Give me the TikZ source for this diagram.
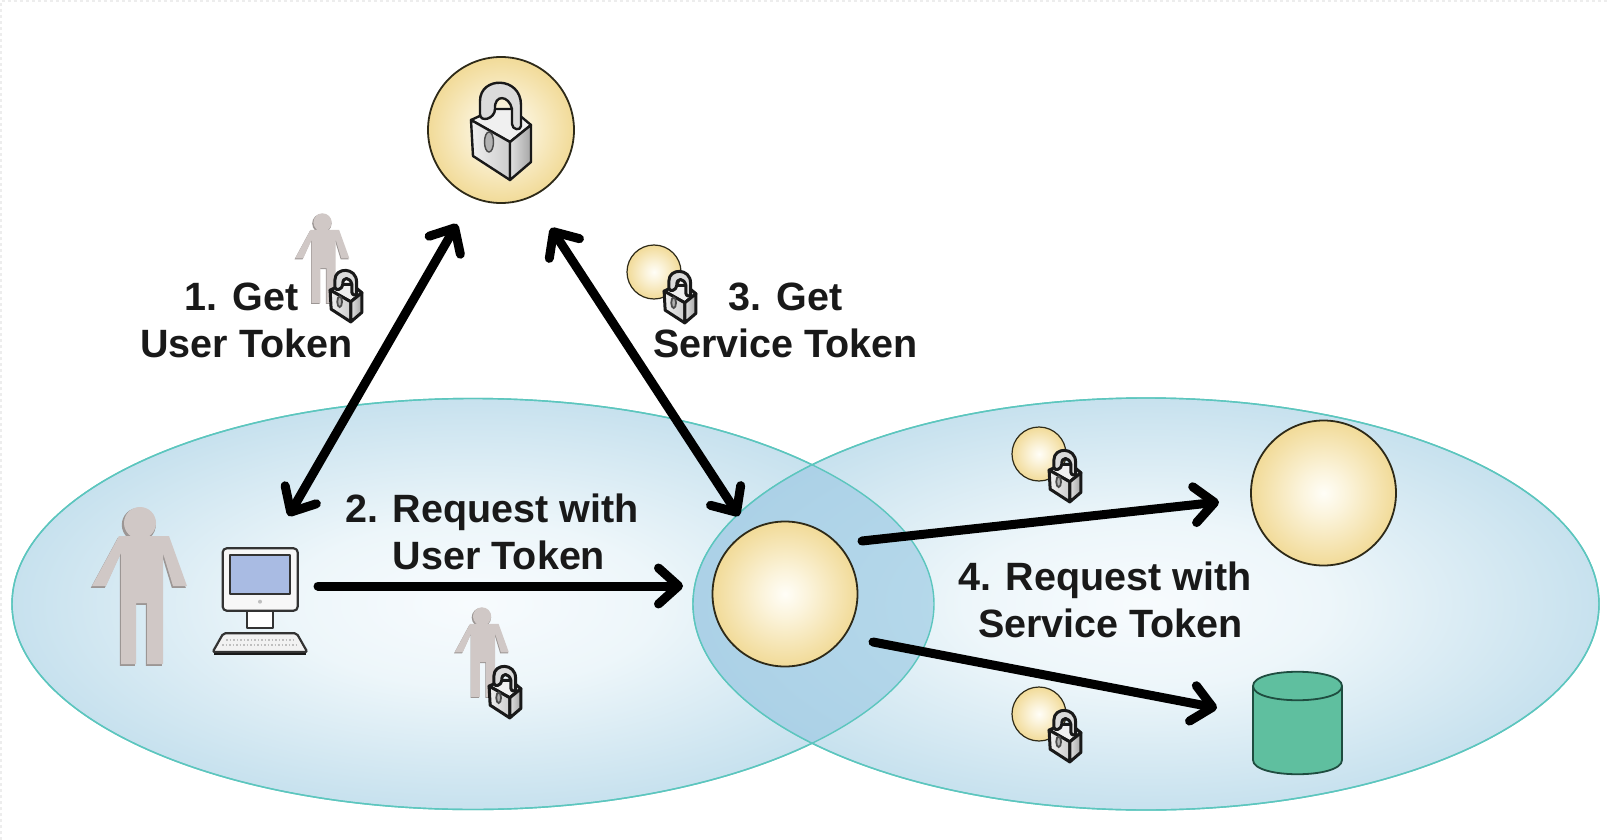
\documentclass[tikz,border=0pt]{standalone}
\usepackage{fontspec}
\setmainfont{Liberation Sans}
\usetikzlibrary{arrows.meta,shapes.geometric}
\definecolor{teal1}{HTML}{5CC6BE}
\definecolor{ballline}{HTML}{2E2A18}
\definecolor{persona}{HTML}{D0C8C6}
\definecolor{personb}{HTML}{9C9694}
\definecolor{screenc}{HTML}{A9BBE3}
\definecolor{cylc}{HTML}{5FBF9F}
\definecolor{cyll}{HTML}{1F4D40}
\pgfdeclareradialshading{ballsoft}{\pgfpoint{0bp}{0bp}}{rgb(0bp)=(1,0.995,0.97);rgb(8bp)=(0.985,0.955,0.86);rgb(28bp)=(0.94,0.84,0.55);rgb(50bp)=(0.94,0.84,0.55)}
\pgfdeclareradialshading{skyshade}{\pgfpoint{0bp}{0bp}}{rgb(0bp)=(0.97,0.985,0.995);rgb(10bp)=(0.93,0.965,0.98);rgb(31bp)=(0.72,0.85,0.915);rgb(50bp)=(0.70,0.84,0.91)}
\pgfdeclareradialshading{lensshade}{\pgfpoint{0bp}{0bp}}{rgb(0bp)=(0.74,0.87,0.93);rgb(30bp)=(0.66,0.81,0.90);rgb(50bp)=(0.66,0.81,0.90)}
\tikzset{
  x=1pt,y=-1pt,
  zone/.style={ellipse,draw=teal1,line width=1.4pt,shading=skyshade,inner sep=0pt,outer sep=0pt},
  ballnode/.style={circle,draw=ballline,line width=1.8pt,shading=ballsoft,inner sep=0pt,outer sep=0pt},
  steplabel/.style={font=\fontsize{39.5}{47}\selectfont\bfseries,align=center,text=black!90,inner sep=0pt},
  flow/.style={line width=9pt,line cap=round,black,-{Straight Barb[length=20pt,width=36pt,line width=9pt,round]}},
  dflow/.style={line width=9pt,line cap=round,black,{Straight Barb[length=20pt,width=36pt,line width=9pt,round]}-{Straight Barb[length=20pt,width=36pt,line width=9pt,round]}},
  locklw/.initial=2.4pt,
  person/.pic={
    \path[fill=personb,xshift=-1.2pt,yshift=-1.8pt]
      (-20,5) -- (30,5) -- (48,55) -- (34,55) -- (24,22) -- (24,133) -- (8,133) -- (8,72) -- (-3,72) -- (-3,133) -- (-18,133) -- (-18,22) -- (-33,55) -- (-47,55) -- cycle
      (1,-8) circle[radius=17];
    \path[fill=persona]
      (-20,5) -- (30,5) -- (48,55) -- (34,55) -- (24,22) -- (24,133) -- (8,133) -- (8,72) -- (-3,72) -- (-3,133) -- (-18,133) -- (-18,22) -- (-33,55) -- (-47,55) -- cycle
      (1,-8) circle[radius=16];
  },
  padlock/.pic={
    \draw[line width=\pgfkeysvalueof{/tikz/locklw},black!90,fill=black!6,line join=round]
      (-30,-13) -- (-6,-24) -- (11,-24) -- (30,-8) -- (9,9) -- cycle;
    \draw[line width=\pgfkeysvalueof{/tikz/locklw},black!90,fill=black!14,line join=round]
      (-21,-19) -- (-21,-32) .. controls (-21,-57) and (20,-57) .. (20,-28) -- (20,-7) .. controls (20,-2) and (11,-3) .. (11,-9) -- (11,-24) .. controls (8,-38) and (-7,-39) .. (-6,-24) .. controls (-6,-14) and (-21,-10) .. (-21,-19) -- cycle;
    \draw[line width=\pgfkeysvalueof{/tikz/locklw},black!90,left color=black!6,right color=black!20,line join=round]
      (-30,-13) -- (9,9) -- (9,47) -- (-28,23) -- cycle;
    \draw[line width=\pgfkeysvalueof{/tikz/locklw},black!90,left color=black!12,right color=black!35,line join=round]
      (9,9) -- (30,-8) -- (30,29) -- (9,47) -- cycle;
    \draw[line width=.6*\pgfkeysvalueof{/tikz/locklw},black!70,fill=black!30] (-12,9) ellipse[x radius=4.5,y radius=10];
  },
}
\begin{document}
\begin{tikzpicture}
\useasboundingbox (0,0) rectangle (1610,840);
\fill[white] (0,0) rectangle (1610,840);
\draw[black!7,line width=1.5pt,dashed] (1,840) -- (1,1) -- (1610,1);

\node[zone,minimum width=922pt,minimum height=411pt] (left) at (473,604) {};
\node[zone,minimum width=906pt,minimum height=412pt] (right) at (1146,604) {};
\begin{scope}
  \clip (473,604) ellipse[x radius=461,y radius=205.5];
  \path[shading=lensshade] (1146,604) ellipse[x radius=453,y radius=206];
\end{scope}
\draw[teal1,line width=1.4pt] (473,604) ellipse[x radius=461,y radius=205.5];
\draw[teal1,line width=1.4pt] (1146,604) ellipse[x radius=453,y radius=206];

\node[ballnode,minimum size=146pt] (auth) at (501,130) {};
\node[ballnode,minimum size=145pt] (front) at (785,594) {};
\node[ballnode,minimum size=145pt] (back) at (1323.5,493) {};

\path[fill=cylc,draw=cyll,line width=1.8pt] (1253,686) -- (1253,760) .. controls (1253,779) and (1342,779) .. (1342,760) -- (1342,686) .. controls (1342,667) and (1253,667) .. (1253,686) -- cycle;
\draw[cyll,line width=1.8pt] (1253,686) .. controls (1253,705) and (1342,705) .. (1342,686);

\pic at (501,133) {padlock};

\pic at (139,531) {person};
\begin{scope}[black!80,line join=round]
  \draw[line width=1.8pt,fill=white] (246.7,610) rectangle (273.3,628);
  \draw[line width=2.2pt,fill=black!3,rounded corners=4pt] (222.7,548.3) rectangle (297.7,610.7);
  \draw[line width=1.8pt,fill=screenc] (230,555) rectangle (290,594.3);
  \fill[black!25] (260,601.7) circle[radius=2];
  \draw[line width=2.2pt,fill=black!5,rounded corners=2pt] (223.3,633.3) -- (296.7,633.3) -- (307.3,652) -- (212.7,652) -- cycle;
  \draw[black!90,line width=2.6pt] (214,654) -- (306,654);
  \draw[black!25,line width=1.5pt,dotted] (226,640) -- (294,640);
  \draw[black!25,line width=1.5pt,dotted] (222,645) -- (298,645);
\end{scope}

\pic[scale=.57] at (322,227) {person};
\pic[scale=.57] at (481.5,621) {person};
\pic[scale=.53,locklw=3pt] at (346,297) {padlock};
\pic[scale=.53,locklw=3pt] at (505,693) {padlock};
\node[ballnode,line width=1.2pt,minimum size=54pt] (tokS) at (654,272) {};
\pic[scale=.53,locklw=3pt] at (680,298) {padlock};
\node[ballnode,line width=1.2pt,minimum size=54pt] (tokA) at (1039,454) {};
\pic[scale=.53,locklw=3pt] at (1065,477) {padlock};
\node[ballnode,line width=1.2pt,minimum size=54pt] (tokB) at (1039,714) {};
\pic[scale=.53,locklw=3pt] at (1065,737) {padlock};

\coordinate (a1) at (457,224);
\coordinate (c1) at (288.5,516);
\coordinate (a3) at (551,228);
\coordinate (f3) at (739,516);
\coordinate (c2) at (318,586);
\coordinate (f2) at (683,586);
\coordinate (f4a) at (862,541);
\coordinate (b4a) at (1219,502);
\coordinate (f4b) at (873,642);
\coordinate (d4b) at (1217,708);
\draw[dflow] (a1) -- (c1);
\draw[dflow] (a3) -- (f3);
\draw[flow] (c2) -- (f2);
\draw[flow] (f4a) -- (b4a);
\draw[flow] (f4b) -- (d4b);

\node[steplabel] (l1) at (246.5,320) {1. Get\hspace*{10pt}\\User Token};
\node[steplabel] (l3) at (785.5,320) {3. Get\\Service Token};
\node[steplabel] (l2) at (499,532) {2. Request with\hspace*{14pt}\\User Token};
\node[steplabel] (l4) at (1110.5,600) {4. Request with\hspace*{11pt}\\Service Token};
\end{tikzpicture}
\end{document}
